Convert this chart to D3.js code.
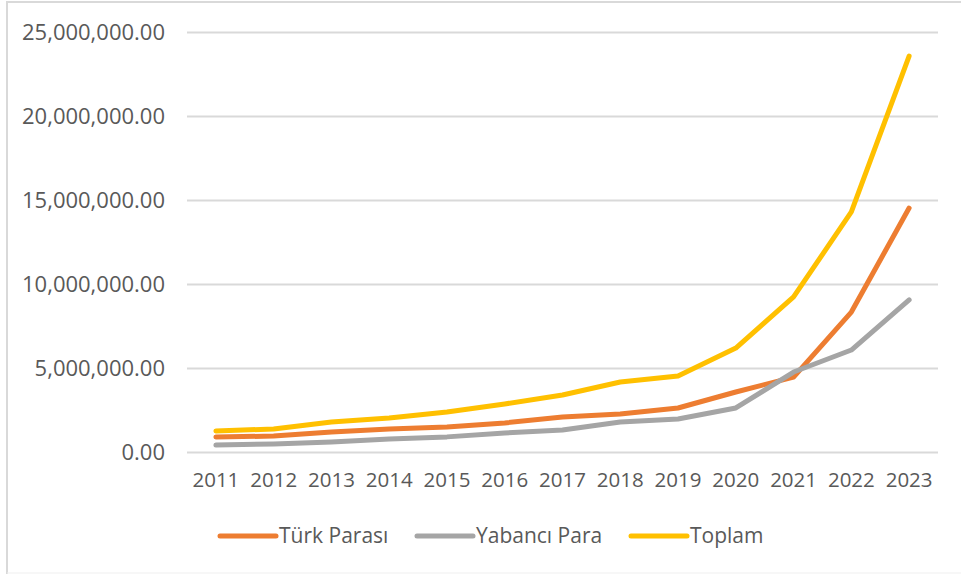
<!DOCTYPE html>
<html>
<head>
<meta charset="utf-8">
<script src="https://cdn.jsdelivr.net/npm/d3@7"></script>
<style>
  body { margin: 0; background: #fff; }
  text { font-family: "Open Sans", sans-serif; fill: #595959; }
</style>
</head>
<body>
<div id="chart"></div>
<script>
var years = ["2011", "2012", "2013", "2014", "2015", "2016", "2017", "2018", "2019", "2020", "2021", "2022", "2023"];
var turkParasi = [890000, 950000, 1190000, 1370000, 1490000, 1730000, 2080000, 2260000, 2620000, 3570000, 4460000, 8330000, 14520000];
var yabanciPara = [410000, 480000, 600000, 770000, 900000, 1130000, 1310000, 1790000, 1960000, 2620000, 4760000, 6070000, 9050000];
var toplam = [1250000, 1370000, 1790000, 2020000, 2380000, 2860000, 3390000, 4170000, 4520000, 6190000, 9230000, 14290000, 23570000];
var yTicks = [0, 5000000, 10000000, 15000000, 20000000, 25000000];

var series = [
    {name: "Türk Parası", values: turkParasi, color: "#ED7D31"},
    {name: "Yabancı Para", values: yabanciPara, color: "#A5A5A5"},
    {name: "Toplam", values: toplam, color: "#FFC000"}
];

var width = 961, height = 574;
var plot = {x1: 187, x2: 938, y1: 32, y2: 452};

var svg = d3.select("#chart").append("svg").attr("width", width).attr("height", height);

// chart frame
svg.append("path").attr("d", "M7,574 L7,2 L961,2").attr("fill", "none")
    .attr("stroke", "#d9d9d9").attr("stroke-width", 2);
svg.append("line").attr("x1", 7).attr("x2", 961).attr("y1", 573).attr("y2", 573)
    .attr("stroke", "#efefef").attr("stroke-width", 1);

var x = d3.scaleBand().domain(years).range([plot.x1, plot.x2]);
var y = d3.scaleLinear().domain([0, 25000000]).range([plot.y2, plot.y1]);
var fmt = d3.format(",.2f");

// gridlines + y labels
var yAxis = d3.axisLeft(y).tickValues(yTicks).tickFormat(fmt)
    .tickSize(-(plot.x2 - plot.x1)).tickPadding(22);
var gy = svg.append("g").attr("transform", "translate(" + plot.x1 + ",0)").call(yAxis);
gy.select(".domain").remove();
gy.selectAll("line").attr("stroke", "#d9d9d9").attr("stroke-width", 2);
gy.selectAll("text").style("font-size", "22px").style("fill", "#595959");

// x labels
var xAxis = d3.axisBottom(x).tickSize(0).tickPadding(20);
var gx = svg.append("g").attr("transform", "translate(0," + plot.y2 + ")").call(xAxis);
gx.select(".domain").remove();
gx.selectAll("text").style("font-size", "20.5px").style("fill", "#595959");

var line = d3.line()
    .x(function(d, i) { return x(years[i]) + x.bandwidth() / 2; })
    .y(function(d) { return y(d); });

series.forEach(function(s) {
    svg.append("path").attr("d", line(s.values)).attr("fill", "none")
        .attr("stroke", s.color).attr("stroke-width", 5)
        .attr("stroke-linecap", "round").attr("stroke-linejoin", "round");
});

// legend
var legendX = [220, 417, 631];
series.forEach(function(s, i) {
    var g = svg.append("g").attr("transform", "translate(" + legendX[i] + ",536)");
    g.append("line").attr("x1", 0).attr("x2", 56).attr("y1", 0).attr("y2", 0)
        .attr("stroke", s.color).attr("stroke-width", 5).attr("stroke-linecap", "round");
    g.append("text").text(s.name).attr("x", 59).attr("y", 0).attr("dy", "0.35em")
        .style("font-size", "21px");
});
</script>
</body>
</html>
